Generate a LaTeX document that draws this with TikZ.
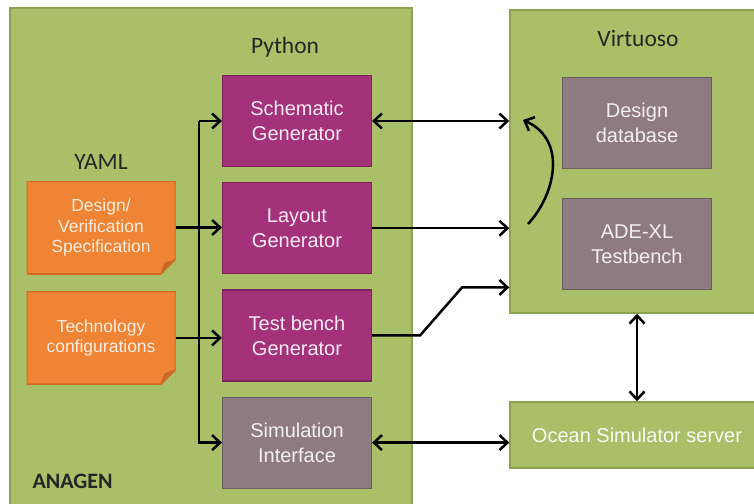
\documentclass[tikz,border=0pt]{standalone}
\usepackage{fontspec}
\setmainfont{Liberation Sans}
\newfontfamily\titlefont{Carlito}
\usetikzlibrary{arrows.meta,positioning}

\definecolor{leaf}{HTML}{A9C068}
\definecolor{leafedge}{HTML}{8DA24F}
\definecolor{plum}{HTML}{A3327A}
\definecolor{plumedge}{HTML}{7C2359}
\definecolor{mauve}{HTML}{8E7B82}
\definecolor{mauveedge}{HTML}{6B5C62}
\definecolor{peel}{HTML}{EE8434}
\definecolor{peeledge}{HTML}{D06C22}
\definecolor{peelfold}{HTML}{C5672A}

\tikzset{
  outer/.style={fill=leaf,draw=leafedge,line width=1.5pt,text=white!92!leaf,font=\fontsize{20}{24}\selectfont},
  gen/.style={fill=plum,draw=plumedge,line width=1.2pt,minimum width=149pt,minimum height=91pt,
    text=white!90!plum,align=center,font=\fontsize{20}{25}\selectfont},
  iface/.style={gen,fill=mauve,draw=mauveedge,text=white!88!mauve},
  note/.style={fill=peel,minimum width=149pt,minimum height=93pt,align=center,
    text=white!85!peel,font=\fontsize{17.5}{20.5}\selectfont,
    path picture={
      \fill[leaf] ([yshift=15pt]path picture bounding box.south east) -- (path picture bounding box.south east)
        -- ([xshift=-15pt]path picture bounding box.south east) -- cycle;
      \fill[peelfold] ([yshift=15pt]path picture bounding box.south east)
        -- ([xshift=-15pt]path picture bounding box.south east)
        -- ([xshift=-11pt,yshift=11pt]path picture bounding box.south east) -- cycle;
      \draw[peeledge,line width=2pt] (path picture bounding box.north west) -- (path picture bounding box.north east)
        -- ([yshift=15pt]path picture bounding box.south east) -- ([xshift=-15pt]path picture bounding box.south east)
        -- (path picture bounding box.south west) -- cycle;
    }},
  title/.style={font=\titlefont\fontsize{23.5}{26}\selectfont,text=black!85},
  link/.style={line width=2.5pt,black,>={Straight Barb[length=8pt,width=15pt]}}
}

\begin{document}
\begin{tikzpicture}[x=1pt,y=-1pt]
      \path[use as bounding box,fill=white] (0,0) rectangle (754,503);

      \node[outer,minimum width=402pt,minimum height=507pt] (anagen) at (211,261.5) {};
      \node[outer,minimum width=254pt,minimum height=303pt] (virt) at (637,161.5) {};
      \node[outer,minimum width=254pt,minimum height=66pt] (ocean) at (637,435) {Ocean Simulator server};

      \node[title] (python) at (285,47) {Python};
      \node[title] (yaml) at (101,162) {YAML};
      \node[title] (virtuoso) at (638,39) {Virtuoso};
      \node[title,font=\titlefont\bfseries\fontsize{22}{24}\selectfont,anchor=west] (name) at (29,481) {ANAGEN};

      \node[gen] (schem) at (297,121) {Schematic\\Generator};
      \node[gen,below=15pt of schem] (layout) {Layout\\Generator};
      \node[gen,below=15pt of layout] (tb) {Test bench\\Generator};
      \node[iface,below=15pt of tb] (sim) {Simulation\\Interface};

      \node[iface] (db) at (637,123) {Design\\database};
      \node[iface,below=29pt of db] (ade) {ADE-XL\\Testbench};

      \node[note] (spec) at (101,227.5) {Design/\\Verification\\Specification};
      \node[note,below=17pt of spec] (tech) {Technology\\configurations};

      \coordinate (bus) at (199,121);
      \coordinate (loopstart) at (528,224);
      \coordinate (loopend) at (523,120);

      \draw[link,->] (bus) -- (schem.west);
      \draw[link,->] (bus) |- (sim.west);
      \draw[link,->] (spec.east) -- (spec.east -| layout.west);
      \draw[link,->] (tech.east) -- (tech.east -| tb.west);
      \draw[link,<->] (schem.east) -- (schem.east -| virt.west);
      \draw[link,->] (layout.east) -- (layout.east -| virt.west);
      \draw[link,->] (tb.east) -- ++(48,0) -- ++(42,-48) coordinate (knee) -- (knee -| virt.west);
      \draw[link,<->] (sim.east) -- (sim.east -| ocean.west);
      \draw[link,<->] (virt.south) -- (ocean.north);
      \draw[link,->] (loopstart) .. controls (555,195) and (568,140) .. (loopend);
    \end{tikzpicture}
\end{document}
